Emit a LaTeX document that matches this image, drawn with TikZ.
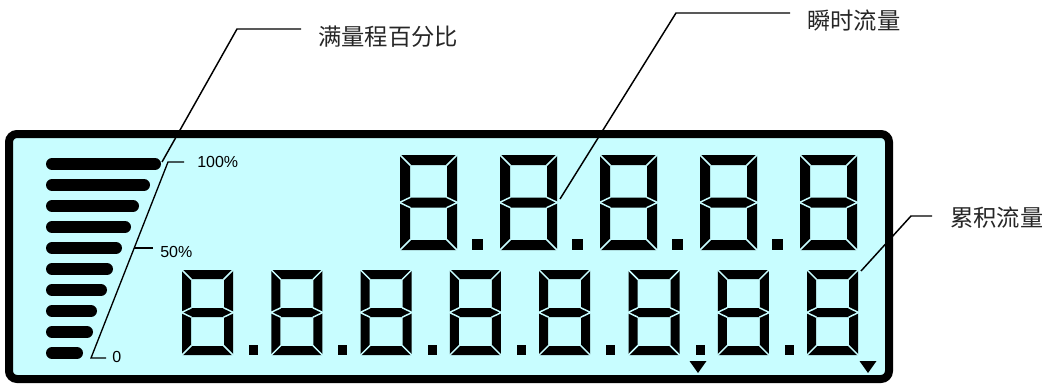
\documentclass[tikz,border=0pt]{standalone}
\usepackage{fontspec}
\newfontfamily\cjkfont{Noto Sans CJK SC}
\newfontfamily\lcdfont{Liberation Sans}
\definecolor{lcdbg}{HTML}{C8FDFF}
\definecolor{labelgray}{HTML}{262626}
\tikzset{
 seg/.style={fill=black},
 gapline/.style={draw=lcdbg, line width=1.1pt},
 barseg/.style={line width=9pt, line cap=round},
 leader/.style={line width=1.1pt},
 scaleline/.style={line width=1pt},
 cjklabel/.style={font=\cjkfont\fontsize{17.5}{20}\selectfont, text=labelgray, anchor=west, inner sep=0pt},
 scalelabel/.style={font=\lcdfont\fontsize{12}{14}\selectfont, anchor=west, inner sep=0pt},
 framebox/.style={line width=6pt, fill=lcdbg, rounded corners=6pt},
}
% #1 x, #2 y, #3 width, #4 height, #5 thickness
\newcommand\lcddigit[5]{%
 \begin{scope}[shift={(#1,#2)}]
  \fill[seg, even odd rule] (0,0) rectangle (#3,#4)
     (#5,#5) rectangle (#3-#5,#4/2-#5/2)
     (#5,#4/2+#5/2) rectangle (#3-#5,#4-#5);
  \draw[gapline] (-1,-1) -- (#5+0.5,#5+0.5);
  \draw[gapline] (#3+1,-1) -- (#3-#5-0.5,#5+0.5);
  \draw[gapline] (-1,#4+1) -- (#5+0.5,#4-#5-0.5);
  \draw[gapline] (#3+1,#4+1) -- (#3-#5-0.5,#4-#5-0.5);
  \draw[gapline] (#5+0.5,#4/2-#5/2-0.25) -- (-0.5,#4/2) -- (#5+0.5,#4/2+#5/2+0.25);
  \draw[gapline] (#3-#5-0.5,#4/2-#5/2-0.25) -- (#3+0.5,#4/2) -- (#3-#5-0.5,#4/2+#5/2+0.25);
 \end{scope}}
\begin{document}
\begin{tikzpicture}[x=0.75pt,y=-0.75pt]
\useasboundingbox (0,0) rectangle (1042,385);
% LCD frame
\draw[framebox] (9,134) rectangle (889,379);
% upper row
\foreach \i in {0,...,4} {\lcddigit{400+100*\i}{155}{57}{95}{10}}
\foreach \i in {0,...,3} {\fill (472+100*\i,239) rectangle ++(11,11);}
% lower row
\foreach \i in {0,...,7} {\lcddigit{182+89.3*\i}{270}{51}{85}{9}}
\foreach \i in {0,...,6} {\fill (249+89.3*\i,345) rectangle ++(9,10);}
% triangles
\fill (689.5,361) -- (706.5,361) -- (698,373) -- cycle;
\fill (859.5,361) -- (876.5,361) -- (868,373) -- cycle;
% bar graph
\foreach \yc/\xr in {164/161,185/150,206/139,227/131,248/122,269/113,290/107,311/97,332/93,353/83}
  {\draw[barseg] (52,\yc) -- (\xr-6,\yc);}
% scale
\draw[scaleline] (184,162) -- (168,162) -- (91,358) -- (106,358);
\draw[scaleline] (134,248) -- (153,248);
\node[scalelabel] (p100) at (197,162) {100\%};
\node[scalelabel] (p50) at (160,252) {50\%};
\node[scalelabel] (p0) at (112,357) {0};
% leaders and labels
\coordinate (barTop) at (162,162);
\coordinate (k1) at (237,29);
\coordinate (e1) at (301,29);
\node[cjklabel] (lblA) at (318,37) {满量程百分比};
\draw[leader] (barTop) -- (k1) -- (e1);
\coordinate (upDigit) at (560,199);
\coordinate (k2) at (676,13);
\coordinate (e2) at (790,13);
\node[cjklabel] (lblB) at (807,21) {瞬时流量};
\draw[leader] (upDigit) -- (k2) -- (e2);
\coordinate (lowDigit) at (861,271);
\coordinate (k3) at (911,216);
\coordinate (e3) at (932,216);
\node[cjklabel] (lblC) at (950,218) {累积流量};
\draw[leader] (lowDigit) -- (k3) -- (e3);
\end{tikzpicture}
\end{document}
